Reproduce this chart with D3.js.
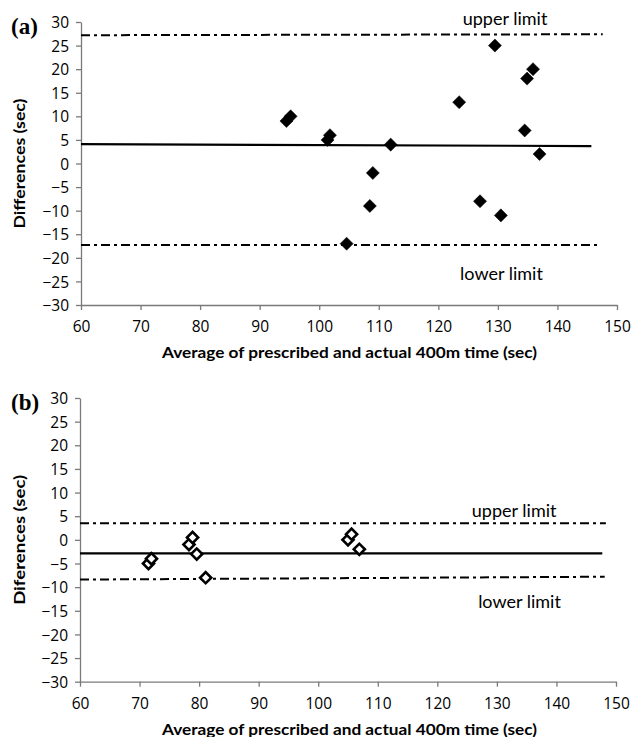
<!DOCTYPE html>
<html>
<head>
<meta charset="utf-8">
<script src="https://cdn.jsdelivr.net/npm/d3@7"></script>
<style>
  body { margin: 0; background: #fff; }
  svg { display: block; }
</style>
</head>
<body>
<svg id="svg"></svg>
<script>
// Global variables
let svg = d3.select("#svg");
const width = 634;
const height = 737;

// Axis ticks shared by both panels
const xTicks = [60, 70, 80, 90, 100, 110, 120, 130, 140, 150];
const yTicks = [-30, -25, -20, -15, -10, -5, 0, 5, 10, 15, 20, 25, 30];

// Panel (a) - filled diamonds
const avgA = [94.5, 95.2, 101.4, 101.8, 104.6, 108.5, 109, 112, 123.5, 127, 129.5, 130.5, 134.5, 134.9, 135.9, 137];
const diffA = [9, 10, 5, 6, -17, -9, -2, 4, 13, -8, 25, -11, 7, 18, 20, 2];
// reference lines of panel (a): [start, end]
const upperXA = [60, 147.6], upperA = [27.2, 27.4];
const meanXA = [60, 145.7], meanA = [4.1, 3.7];
const lowerXA = [60, 147.1], lowerA = [-17.3, -17.3];

// Panel (b) - open diamonds
const avgB = [71.5, 72, 78.3, 78.9, 79.6, 81.1, 105.0, 105.6, 106.9];
const diffB = [-5, -4, -1, 0.5, -3, -8, 0, 1.2, -2];
const upperXB = [60, 148.3], upperB = [3.5, 3.5];
const meanXB = [60, 147.7], meanB = [-2.85, -2.85];
const lowerXB = [60, 148.1], lowerB = [-8.4, -7.8];

const xTitle = "Average of prescribed and actual 400m time (sec)";

svg.attr("width", width).attr("height", height);

const panels = [
    {
        tag: "(a)", yTitle: "Differences (sec)",
        left: 81, right: 617, top: 22, bottom: 305,
        avg: avgA, diff: diffA, filled: true,
        lines: [
            { xs: upperXA, ys: upperA, dash: true },
            { xs: meanXA, ys: meanA, dash: false },
            { xs: lowerXA, ys: lowerA, dash: true }
        ],
        upperText: [131.2, 29.3], lowerText: [130.6, -24.7]
    },
    {
        tag: "(b)", yTitle: "Diferences (sec)",
        left: 80, right: 616, top: 398, bottom: 681.7,
        avg: avgB, diff: diffB, filled: false,
        lines: [
            { xs: upperXB, ys: upperB, dash: true },
            { xs: meanXB, ys: meanB, dash: false },
            { xs: lowerXB, ys: lowerB, dash: true }
        ],
        upperText: [132.9, 4.8], lowerText: [133.8, -14.4]
    }
];

const tickFont = "'Open Sans', Lato, sans-serif";
const textFont = "Lato, 'Open Sans', sans-serif";

function drawPanel(p) {
    let x = d3.scaleLinear().domain([60, 150]).range([p.left, p.right]);
    let y = d3.scaleLinear().domain([-30, 30]).range([p.bottom, p.top]);

    let g = svg.append("g");

    // y axis
    let yAxis = g.append("g")
        .attr("transform", "translate(" + p.left + ",0)")
        .call(d3.axisLeft(y).tickValues(yTicks).tickSize(5).tickSizeOuter(0).tickPadding(7));
    yAxis.selectAll("text")
        .attr("dy", "0.36em")
        .style("font-family", tickFont)
        .style("font-size", "15.5px")
        .attr("fill", "#000");

    // x axis
    let xAxis = g.append("g")
        .attr("transform", "translate(0," + p.bottom + ")")
        .call(d3.axisBottom(x).tickValues(xTicks).tickSize(5).tickSizeOuter(0));
    xAxis.selectAll("text")
        .attr("y", 27).attr("dy", 0)
        .style("font-family", tickFont)
        .style("font-size", "15.5px")
        .attr("fill", "#000");

    g.selectAll(".domain, .tick line").attr("stroke", "#7a7a7a").attr("stroke-width", 1.3);

    // reference lines
    g.selectAll(".ref")
        .data(p.lines)
        .enter()
        .append("line")
        .attr("x1", d => x(d.xs[0]))
        .attr("x2", d => x(d.xs[1]))
        .attr("y1", d => y(d.ys[0]))
        .attr("y2", d => y(d.ys[1]))
        .attr("stroke", "#000")
        .attr("stroke-width", d => d.dash ? 2 : 2.2)
        .attr("stroke-dasharray", d => d.dash ? "9,4,3,4" : null);

    // diamonds
    let sym = d3.symbol().type(d3.symbolSquare).size(p.filled ? 85 : 62);
    g.selectAll(".pt")
        .data(p.avg.map((a, i) => [a, p.diff[i]]))
        .enter()
        .append("path")
        .attr("d", sym)
        .attr("transform", d => "translate(" + x(d[0]) + "," + y(d[1]) + ") rotate(45)")
        .attr("fill", p.filled ? "#000" : "#fff")
        .attr("stroke", "#000")
        .attr("stroke-width", p.filled ? 0.5 : 2.6);

    // limit labels
    g.append("text")
        .attr("x", x(p.upperText[0])).attr("y", y(p.upperText[1]))
        .attr("text-anchor", "middle")
        .style("font-family", textFont)
        .style("font-size", "18px")
        .text("upper limit");
    g.append("text")
        .attr("x", x(p.lowerText[0])).attr("y", y(p.lowerText[1]))
        .attr("text-anchor", "middle")
        .style("font-family", textFont)
        .style("font-size", "18px")
        .text("lower limit");

    // axis titles
    g.append("text")
        .attr("x", 349.5).attr("y", p.bottom + 53)
        .attr("text-anchor", "middle")
        .attr("textLength", 375)
        .attr("lengthAdjust", "spacingAndGlyphs")
        .style("font-family", textFont)
        .style("font-weight", "bold")
        .style("font-size", "16px")
        .text(xTitle);
    g.append("text")
        .attr("transform", "translate(25," + y(0) + ") rotate(-90)")
        .attr("text-anchor", "middle")
        .attr("textLength", 130)
        .attr("lengthAdjust", "spacingAndGlyphs")
        .style("font-family", textFont)
        .style("font-weight", "bold")
        .style("font-size", "16px")
        .text(p.yTitle);

    // panel tag
    g.append("text")
        .attr("x", 11).attr("y", p.top + 12)
        .style("font-family", "'Liberation Serif', 'Times New Roman', serif")
        .style("font-weight", "bold")
        .style("font-size", "23px")
        .text(p.tag);
}

panels.forEach(drawPanel);
</script>
</body>
</html>
